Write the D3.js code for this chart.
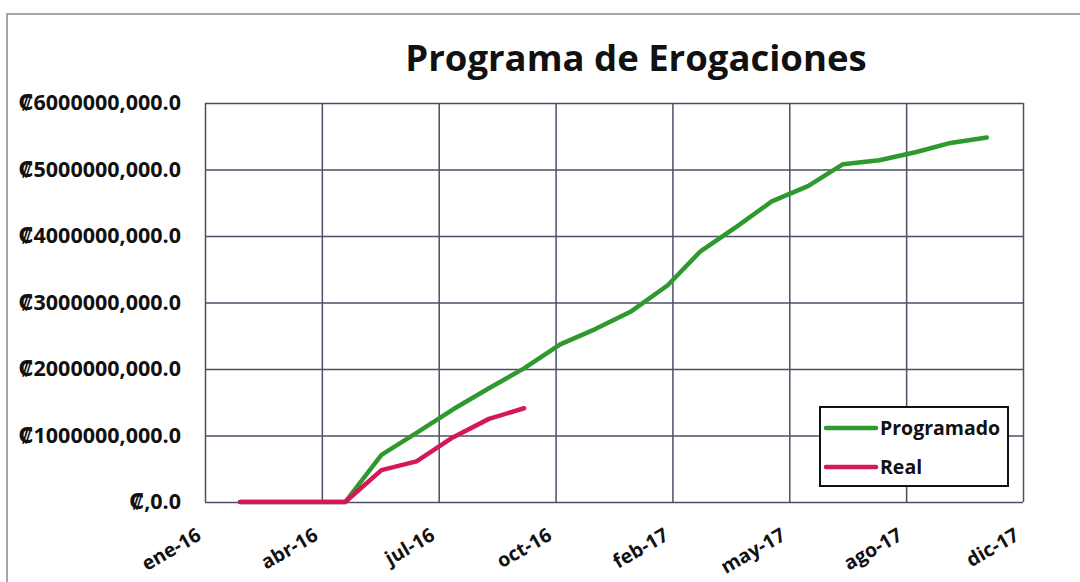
<!DOCTYPE html>
<html>
<head>
    <meta charset="utf-8">
    <title>Programa de Erogaciones</title>
    <script src="https://d3js.org/d3.v7.min.js"></script>
    <style>
        body {
            margin: 0;
            background-color: #ffffff;
        }
        svg text {
            font-family: "Open Sans", "DejaVu Sans", sans-serif;
            font-weight: bold;
            fill: #111111;
        }
    </style>
</head>
<body>
    <svg id="chart"></svg>
    <script>
        // month-end points, values in colones
        const meses = ['2016-01-31', '2016-02-29', '2016-03-31', '2016-04-30', '2016-05-31', '2016-06-30',
            '2016-07-31', '2016-08-31', '2016-09-30', '2016-10-31', '2016-11-30', '2016-12-31',
            '2017-01-31', '2017-02-28', '2017-03-31', '2017-04-30', '2017-05-31', '2017-06-30',
            '2017-07-31', '2017-08-31', '2017-09-30', '2017-10-31'];
        const programado = [0, 0, 0, 0, 0.71e9, 1.04e9, 1.39e9, 1.71e9, 2.01e9, 2.37e9, 2.60e9, 2.87e9,
            3.26e9, 3.77e9, 4.14e9, 4.52e9, 4.75e9, 5.08e9, 5.14e9, 5.26e9, 5.40e9, 5.48e9];
        const real = [0, 0, 0, 0, 0.48e9, 0.61e9, 0.97e9, 1.25e9, 1.41e9];

        // axis ticks (date axis, major unit 100 days)
        const xTicks = ['2016-01-01', '2016-04-10', '2016-07-19', '2016-10-27', '2017-02-04',
            '2017-05-15', '2017-08-23', '2017-12-01'];
        const xTickLabels = ['ene-16', 'abr-16', 'jul-16', 'oct-16', 'feb-17', 'may-17', 'ago-17', 'dic-17'];
        const yTicks = [0, 1e9, 2e9, 3e9, 4e9, 5e9, 6e9];
        const yTickLabels = ['₡,0.0', '₡1000000,000.0', '₡2000000,000.0', '₡3000000,000.0',
            '₡4000000,000.0', '₡5000000,000.0', '₡6000000,000.0'];

        const series = [
            { name: 'Programado', values: programado, color: '#2f982f' },
            { name: 'Real', values: real, color: '#d4185a' }
        ];

        const width = 1080, height = 582;
        const plot = { left: 205, right: 1023, top: 103, bottom: 502 };
        const parse = d3.utcParse('%Y-%m-%d');

        const svg = d3.select('#chart')
            .attr('width', width)
            .attr('height', height);

        // outer chart border (only top and left visible in the scan)
        svg.append('path')
            .attr('d', 'M7,582V14H1080')
            .attr('fill', 'none')
            .attr('stroke', '#8a8a8a')
            .attr('stroke-width', 1.5);

        let x = d3.scaleUtc()
            .domain([parse(xTicks[0]), parse(xTicks[xTicks.length - 1])])
            .range([plot.left, plot.right]);
        let y = d3.scaleLinear()
            .domain([0, 6e9])
            .range([plot.bottom, plot.top]);

        // horizontal grid + y labels
        let yAxis = svg.append('g')
            .attr('transform', 'translate(' + plot.left + ',0)')
            .call(d3.axisLeft(y)
                .tickValues(yTicks)
                .tickSize(-(plot.right - plot.left))
                .tickPadding(24)
                .tickFormat(function (d, i) { return yTickLabels[i]; }));
        yAxis.select('.domain').remove();
        yAxis.selectAll('line')
            .attr('stroke', '#4b5066')
            .attr('stroke-width', 1.5);
        yAxis.selectAll('text')
            .attr('font-size', 21.5)
            .attr('font-family', '"Open Sans", "DejaVu Sans", sans-serif')
            .attr('font-weight', 'bold')
            .attr('fill', '#111');

        // vertical grid + x labels
        let xAxis = svg.append('g')
            .attr('transform', 'translate(0,' + plot.bottom + ')')
            .call(d3.axisBottom(x)
                .tickValues(xTicks.map(parse))
                .tickSize(-(plot.bottom - plot.top))
                .tickFormat(function (d, i) { return xTickLabels[i]; }));
        xAxis.select('.domain').remove();
        xAxis.selectAll('line')
            .attr('stroke', '#4b5066')
            .attr('stroke-width', 1.5);
        xAxis.selectAll('text')
            .attr('font-size', 19.5)
            .attr('font-family', '"Open Sans", "DejaVu Sans", sans-serif')
            .attr('font-weight', 'bold')
            .attr('fill', '#111')
            .attr('text-anchor', 'end')
            .attr('dy', 0)
            .attr('transform', 'translate(-3,37) rotate(-30)')
            .attr('y', 0);

        // lines
        let line = d3.line()
            .x(function (d, i) { return x(parse(meses[i])); })
            .y(function (d) { return y(d); });

        series.forEach(function (s) {
            svg.append('path')
                .datum(s.values)
                .attr('d', line)
                .attr('fill', 'none')
                .attr('stroke', s.color)
                .attr('stroke-width', 4.5)
                .attr('stroke-linejoin', 'round')
                .attr('stroke-linecap', 'round');
        });

        // title
        svg.append('text')
            .attr('x', 636)
            .attr('y', 71)
            .attr('text-anchor', 'middle')
            .attr('font-size', 36.5)
            .text('Programa de Erogaciones');

        // legend
        let legend = svg.append('g').attr('transform', 'translate(820,407)');
        legend.append('rect')
            .attr('width', 188)
            .attr('height', 79)
            .attr('fill', '#fff')
            .attr('stroke', '#111')
            .attr('stroke-width', 2);
        series.forEach(function (s, i) {
            let row = legend.append('g').attr('transform', 'translate(0,' + (21 + i * 39) + ')');
            row.append('line')
                .attr('x1', 6).attr('x2', 56)
                .attr('stroke', s.color)
                .attr('stroke-width', 4.5)
                .attr('stroke-linecap', 'round');
            row.append('text')
                .attr('x', 60)
                .attr('y', 7)
                .attr('font-size', 19.5)
                .text(s.name);
        });
    </script>
</body>
</html>
